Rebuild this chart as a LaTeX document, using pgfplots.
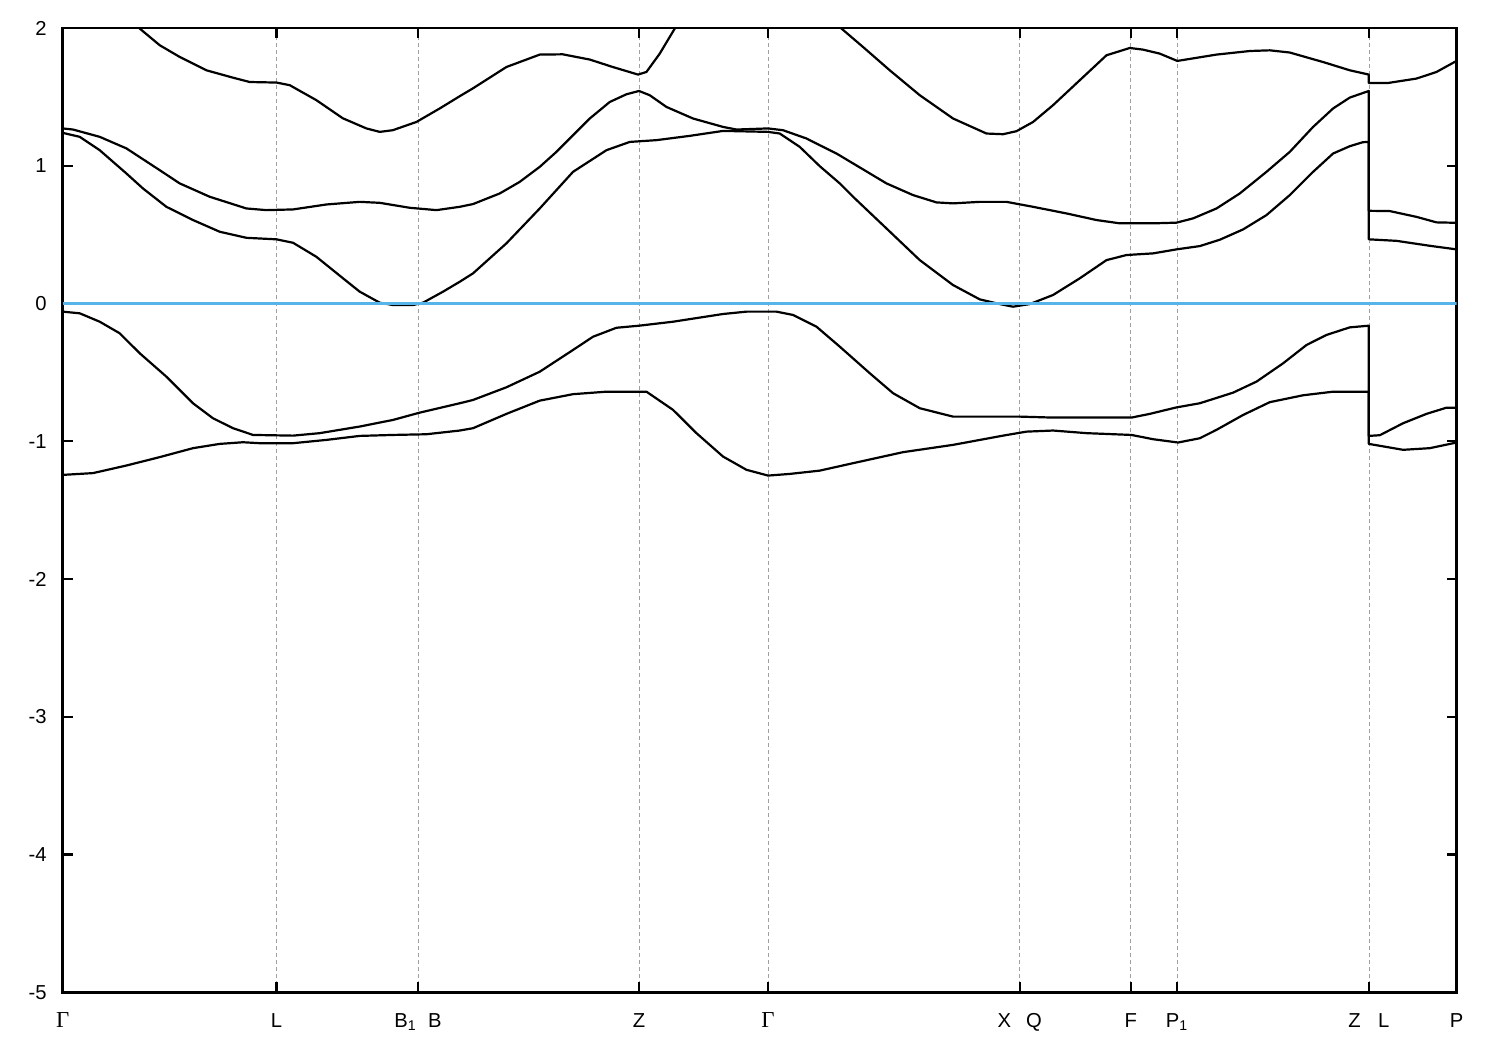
\documentclass[border=0pt]{standalone}
\usepackage{pgfplots}
\pgfplotsset{compat=1.18}
\usepackage{fontspec}
\setmainfont{Liberation Sans}
\newfontfamily\gfont{Liberation Serif}
\definecolor{zeroblue}{RGB}{86,180,233}
\definecolor{gridgray}{RGB}{160,160,160}
\newcommand{\G}{{\gfont\fontsize{13}{14}\selectfont Γ}}
\newcommand{\tlfont}{\fontsize{11.5}{13}\selectfont}
\pgfplotsset{band/.style={black, mark=none, solid, line width=0.44mm, line join=round}}
\begin{document}
\begin{tikzpicture}
\useasboundingbox (-12.54mm,-11.54mm) rectangle (287.46mm,198.46mm);
\begin{axis}[at={(0,0)}, anchor=south west, scale only axis,
  width=278.76mm, height=192.86mm,
  xmin=0, xmax=1393.7, ymin=-5, ymax=2,
  xtick={0,213.7,355.3,576.3,705.3,957,1068,1114.3,1306,1393.7},
  xticklabels={\G, L, B\textsubscript{1}\hspace{2.3mm}B, Z, \G, X\hspace{3.0mm}Q, F, P\textsubscript{1}, Z\hspace{3.5mm}L, P},
  ytick={-5,-4,-3,-2,-1,0,1,2},
  yticklabels={-5,-4,-3,-2,-1,0,1,2},
  xmajorgrids,
  major grid style={gridgray, dash pattern=on 0.8mm off 0.6mm, line width=0.35pt},
  axis line style={line width=0.55mm},
  major tick length=2mm,
  every tick/.style={black, line width=0.45mm},
  every tick label/.append style={font=\tlfont},
  xticklabel style={font=\tlfont, anchor=base, yshift=-7.1mm},
  yticklabel style={font=\tlfont, xshift=-2.0mm},
]
% CB3 segment 1
\addplot[band] coordinates {(37,2.25) (77,1.996) (97,1.875) (117,1.790) (143.7,1.693) (170,1.640) (187,1.608) (213.7,1.604) (227,1.585) (253.7,1.476) (280,1.345) (303.7,1.271) (317,1.246) (330,1.258) (353.7,1.318) (377,1.416) (397,1.505) (410,1.561) (443.7,1.717) (477,1.807) (500,1.809) (527,1.771) (550,1.717) (575.3,1.662) (583.7,1.681) (597,1.814) (612,1.996) (627,2.179)};
% CB3 segment 2
\addplot[band] coordinates {(757,2.128) (778.7,1.996) (800.3,1.862) (827,1.693) (857,1.512) (890.3,1.343) (923.7,1.234) (940.3,1.229) (953.7,1.251) (970.3,1.318) (990.3,1.440) (1017,1.621) (1043.7,1.802) (1067,1.855) (1080.3,1.843) (1097,1.814) (1114.5,1.761) (1153.7,1.807) (1187,1.833) (1207,1.838) (1227,1.822) (1260.3,1.753) (1287,1.693) (1306,1.662) (1306,1.601) (1325.3,1.601) (1353.7,1.633) (1373.7,1.681) (1393.7,1.761)};
% CB2
\addplot[band] coordinates {(0,1.271) (10.3,1.263) (37,1.210) (63.7,1.126) (97,0.968) (117,0.872) (147,0.775) (183.7,0.690) (203.7,0.678) (230.3,0.683) (263.7,0.719) (297,0.738) (317,0.731) (347,0.695) (373.7,0.678) (397,0.702) (410.3,0.722) (437,0.799) (457,0.883) (477,0.992) (493.7,1.101) (510.3,1.222) (527,1.343) (547,1.463) (563.7,1.519) (576.3,1.543) (587,1.512) (603.7,1.427) (630.3,1.343) (660.3,1.282) (673.7,1.263) (705.3,1.271) (720.3,1.258) (743.7,1.198) (757,1.149) (773.7,1.089) (790.3,1.017) (823.7,0.872) (850.3,0.787) (873.7,0.734) (890.3,0.727) (917,0.738) (943.7,0.738) (970.3,0.702) (1003.7,0.654) (1033.7,0.606) (1057,0.582) (1090.3,0.582) (1113.7,0.587) (1130.3,0.618) (1153.7,0.690) (1177,0.799) (1203.7,0.956) (1227,1.101) (1250.3,1.282) (1270.3,1.416) (1287,1.495) (1306,1.543) (1306,0.673) (1327,0.671) (1353.7,0.629) (1373.7,0.589) (1393.7,0.586)};
% CB1
\addplot[band] coordinates {(0,1.239) (17,1.210) (37,1.113) (63.7,0.944) (80.3,0.835) (103.7,0.702) (130.3,0.606) (157,0.521) (183.7,0.477) (213.7,0.466) (230.3,0.441) (253.7,0.339) (280.3,0.183) (297,0.086) (317,0.006) (330.3,-0.011) (350.3,-0.011) (360.3,0.006) (380.3,0.086) (397,0.158) (410.3,0.219) (443.7,0.437) (477,0.690) (510.3,0.956) (543.7,1.113) (567,1.173) (593.7,1.186) (627,1.217) (660.3,1.253) (705.3,1.246) (717,1.234) (737,1.137) (757,0.997) (777,0.872) (790.3,0.775) (823.7,0.545) (857,0.315) (890.3,0.134) (917,0.030) (937,-0.004) (950.3,-0.023) (967,-0.004) (990.3,0.062) (1017,0.183) (1043.7,0.315) (1063.7,0.352) (1090.3,0.364) (1113.7,0.393) (1137,0.417) (1157,0.463) (1180.3,0.538) (1203.7,0.642) (1227,0.787) (1250.3,0.956) (1270.3,1.089) (1287,1.142) (1300,1.171) (1306,1.173) (1306,0.466) (1333.7,0.455) (1367,0.419) (1393.7,0.393)};
% VB1
\addplot[band] coordinates {(0,-0.059) (17,-0.071) (37,-0.132) (57,-0.216) (77,-0.361) (103.7,-0.531) (130.3,-0.724) (150.3,-0.833) (170.3,-0.905) (190.3,-0.954) (230.3,-0.959) (257,-0.941) (297,-0.893) (330.3,-0.845) (357,-0.792) (397,-0.724) (410.3,-0.700) (443.7,-0.608) (477,-0.495) (510.3,-0.337) (530.3,-0.241) (553.7,-0.176) (576.3,-0.161) (610.3,-0.132) (660.3,-0.076) (683.7,-0.059) (713.7,-0.059) (730.3,-0.083) (753.7,-0.168) (777,-0.313) (807,-0.506) (830.3,-0.651) (857,-0.760) (890.3,-0.821) (957,-0.821) (990.3,-0.828) (1068.7,-0.828) (1087,-0.801) (1113.7,-0.754) (1137,-0.724) (1170.3,-0.647) (1193.7,-0.567) (1220.3,-0.434) (1243.7,-0.301) (1263.7,-0.228) (1287,-0.173) (1306,-0.161) (1306,-0.961) (1317,-0.956) (1340.3,-0.869) (1363.7,-0.801) (1383.7,-0.756) (1393.7,-0.756)};
% VB2
\addplot[band] coordinates {(0,-1.244) (30.3,-1.231) (63.7,-1.176) (97,-1.115) (130.3,-1.050) (157,-1.019) (180.3,-1.007) (197,-1.014) (230.3,-1.014) (263.7,-0.990) (297,-0.961) (330.3,-0.954) (363.7,-0.949) (397,-0.922) (410.3,-0.905) (443.7,-0.801) (477,-0.705) (510.3,-0.658) (543.7,-0.640) (583.7,-0.640) (610.3,-0.772) (633.7,-0.941) (660.3,-1.111) (683.7,-1.207) (705.3,-1.249) (727,-1.237) (757,-1.213) (790.3,-1.159) (840.3,-1.079) (890.3,-1.026) (940.3,-0.959) (963.7,-0.930) (990.3,-0.922) (1023.7,-0.941) (1068.7,-0.954) (1090.3,-0.985) (1115.3,-1.009) (1137,-0.978) (1153.7,-0.917) (1180.3,-0.809) (1207,-0.716) (1240.3,-0.666) (1270.3,-0.640) (1306,-0.640) (1306,-1.019) (1340.3,-1.062) (1367,-1.050) (1393.7,-1.009)};
% Fermi level
\addplot[zeroblue, mark=none, solid, line width=0.42mm] coordinates {(0,0) (1393.7,0)};
\end{axis}
\end{tikzpicture}
\end{document}
